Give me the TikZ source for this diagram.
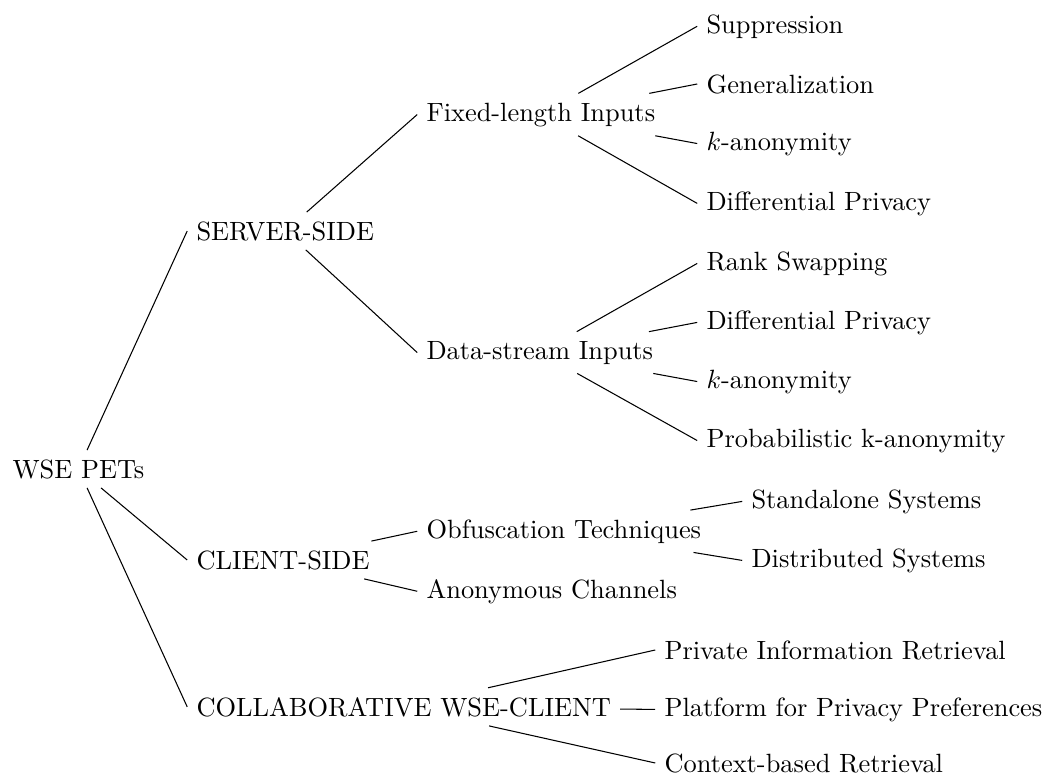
\documentclass[tikz,border=0pt]{standalone}
\begin{document}
\begin{tikzpicture}[x=0.3788pt,y=-0.3788pt,
  lbl/.style={anchor=base west, xshift=-3.333pt},
  link/.style={draw, line width=0.4pt}]
\useasboundingbox (0,0) rectangle (1046,776);
% root
\node[lbl] (root) at (12,478) {WSE PETs};
% first level
\node[lbl] (srv) at (196,240) {SERVER-SIDE};
\node[lbl] (cli) at (196,569) {CLIENT-SIDE};
\node[lbl] (col) at (196,716) {COLLABORATIVE WSE-CLIENT};
% second level
\node[lbl] (fix) at (426,121) {Fixed-length Inputs};
\node[lbl] (dat) at (426,359) {Data-stream Inputs};
\node[lbl] (obf) at (426,538) {Obfuscation Techniques};
\node[lbl] (ano) at (426,598) {Anonymous Channels};
% leaves of the server side
\node[lbl] (sup) at (706,33) {Suppression};
\node[lbl] (gen) at (706,93) {Generalization};
\node[lbl] (ka)  at (706,150) {$k$-anonymity};
\node[lbl] (dpa) at (706,210) {Differential Privacy};
\node[lbl] (rank) at (706,270) {Rank Swapping};
\node[lbl] (dpb) at (706,329) {Differential Privacy};
\node[lbl] (kb)  at (706,388) {$k$-anonymity};
\node[lbl] (pka) at (706,447) {Probabilistic k-anonymity};
% leaves of the client side
\node[lbl] (sta) at (751,508) {Standalone Systems};
\node[lbl] (dis) at (751,567) {Distributed Systems};
% leaves of the collaborative branch
\node[lbl] (pir) at (664,659) {Private Information Retrieval};
\node[lbl] (p3p) at (664,716) {Platform for Privacy Preferences};
\node[lbl] (ctx) at (664,772) {Context-based Retrieval};
% connectors
\foreach \p/\c in {root/srv, root/cli, root/col,
                   srv/fix, srv/dat, cli/obf, cli/ano,
                   fix/sup, fix/gen, fix/ka, fix/dpa,
                   dat/rank, dat/dpb, dat/kb, dat/pka,
                   obf/sta, obf/dis,
                   col/pir, col/p3p, col/ctx}
  \path[link] (\p) -- (\c.west);
\end{tikzpicture}
\end{document}
